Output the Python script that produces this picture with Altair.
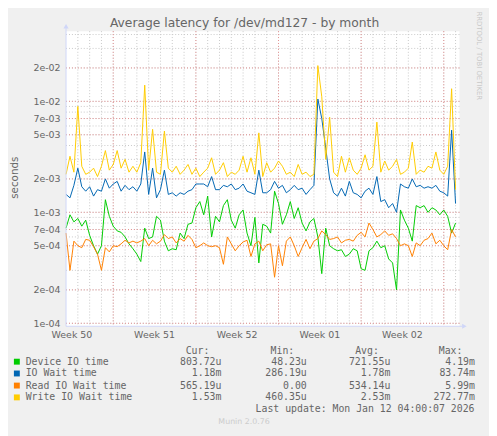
import altair as alt
import pandas as pd

# ---------------- data (values in milliseconds, one sample every 8 hours) ----------------
SERIES = ["Device IO time", "IO Wait time", "Read IO Wait time", "Write IO Wait time"]
COLORS = ["#00CC00", "#0066B3", "#FF8000", "#FFCC00"]

device_ms = [
    0.72, 0.95, 0.82, 0.88, 0.75, 0.85, 0.62, 0.50, 0.42, 0.50,
    1.30, 0.92, 0.75, 0.68, 0.66, 0.60, 0.52, 0.47, 0.42, 0.36,
    0.72, 0.58, 0.60, 0.92, 0.85, 0.55, 0.45, 0.47, 0.46, 0.65,
    0.58, 0.78, 0.80, 1.10, 1.25, 0.95, 1.40, 0.60, 0.92, 0.82,
    1.15, 1.30, 0.85, 0.72, 0.95, 1.05, 0.65, 0.50, 0.90, 0.35,
    0.78, 0.75, 0.65, 1.55, 1.20, 0.78, 0.95, 1.25, 0.88, 1.10,
    0.80, 0.68, 0.82, 0.88, 0.60, 0.28, 0.72, 0.50, 0.47, 0.45,
    0.46, 0.40, 0.42, 0.47, 0.45, 0.31, 0.30, 0.45, 0.48, 0.55,
    0.48, 0.50, 0.38, 0.35, 0.20, 1.05, 0.85, 0.72, 0.55, 1.15,
    1.10, 1.15, 1.00, 1.10, 1.05, 0.95, 1.05, 0.92, 0.65, 0.80,
]
iowait_ms = [
    1.45, 1.35, 1.75, 2.50, 1.70, 1.55, 1.70, 1.40, 1.60, 1.55,
    2.00, 1.65, 1.80, 1.90, 1.55, 1.75, 1.60, 1.70, 1.55, 1.80,
    3.50, 1.45, 2.50, 1.35, 1.60, 2.40, 1.45, 1.50, 1.40, 1.50,
    1.45, 1.55, 1.60, 1.80, 1.80, 1.80, 1.70, 2.10, 1.60, 1.60,
    1.75, 1.70, 1.80, 1.60, 1.65, 1.80, 1.55, 1.50, 1.45, 2.40,
    1.50, 1.50, 1.60, 1.90, 1.65, 1.75, 1.50, 1.60, 1.75, 1.60,
    1.65, 1.45, 1.60, 1.75, 10.5, 7.00, 3.80, 2.00, 1.50, 1.40,
    1.65, 1.40, 1.90, 1.50, 1.45, 1.35, 1.55, 1.65, 1.45, 2.10,
    1.25, 1.30, 1.10, 1.20, 1.00, 1.80, 1.70, 1.65, 2.00, 1.70,
    1.75, 1.65, 1.70, 1.65, 1.75, 1.55, 1.50, 1.40, 5.50, 1.20,
]
read_ms = [
    0.65, 0.30, 0.55, 0.50, 0.48, 0.57, 0.56, 0.49, 0.42, 0.30,
    0.48, 0.44, 0.50, 0.49, 0.52, 0.56, 0.53, 0.55, 0.53, 0.55,
    0.58, 0.50, 0.56, 0.52, 0.55, 0.63, 0.58, 0.60, 0.53, 0.58,
    0.55, 0.62, 0.57, 0.48, 0.50, 0.53, 0.50, 0.49, 0.50, 0.48,
    0.34, 0.60, 0.52, 0.45, 0.50, 0.54, 0.56, 0.40, 0.52, 0.55,
    0.45, 0.51, 0.52, 0.26, 0.50, 0.33, 0.55, 0.60, 0.50, 0.40,
    0.48, 0.57, 0.47, 0.55, 0.58, 0.68, 0.63, 0.57, 0.58, 0.60,
    0.53, 0.56, 0.57, 0.55, 0.62, 0.66, 0.60, 0.80, 0.70, 0.60,
    0.63, 0.68, 0.62, 0.64, 0.58, 0.50, 0.52, 0.50, 0.40, 0.53,
    0.50, 0.56, 0.58, 0.65, 0.52, 0.56, 0.50, 0.46, 0.70, 0.60,
]
write_ms = [
    2.20, 3.20, 2.30, 9.00, 2.60, 2.20, 2.30, 2.50, 2.10, 2.60,
    3.60, 2.40, 2.70, 3.60, 2.50, 3.00, 2.30, 2.60, 2.30, 2.80,
    14.0, 2.40, 5.60, 2.30, 2.20, 5.40, 2.50, 2.30, 2.60, 2.20,
    2.40, 2.70, 2.20, 2.50, 2.10, 2.30, 2.50, 3.10, 2.20, 2.40,
    2.80, 2.10, 2.30, 2.20, 2.40, 3.20, 2.30, 3.10, 2.20, 5.20,
    2.10, 2.80, 2.30, 2.50, 2.90, 2.60, 2.20, 2.30, 2.10, 2.70,
    2.20, 2.30, 2.10, 2.20, 21.0, 11.0, 3.00, 7.20, 2.30, 2.10,
    3.20, 2.30, 3.10, 2.40, 2.20, 2.50, 3.30, 2.40, 2.60, 6.50,
    2.30, 2.90, 2.40, 2.60, 3.00, 2.20, 2.30, 2.50, 4.30, 2.20,
    2.40, 2.30, 2.60, 2.50, 3.50, 2.40, 2.20, 2.60, 13.0, 1.60,
]
SERIES_MS = [device_ms, iowait_ms, read_ms, write_ms]
for s in SERIES_MS:
    assert len(s) == 100

HOURS_PER_SAMPLE = 8
SPAN_DAYS = 100 / 3
WEEK_LABELS = ["Week 50", "Week 51", "Week 52", "Week 01", "Week 02"]
WEEK_START_DAYS = [4, 11, 18, 25, 32]
Y_LABEL_VALUES = [1e-4, 2e-4, 5e-4, 7e-4, 1e-3, 2e-3, 5e-3, 7e-3, 1e-2, 2e-2]
Y_DOMAIN = [9.4e-5, 0.0429]

CUR = ["803.72u", "1.18m", "565.19u", "1.53m"]
MIN = ["48.23u", "286.19u", "0.00\u00a0", "460.35u"]
AVG = ["721.55u", "1.78m", "534.14u", "2.53m"]
MAX = ["4.19m", "83.74m", "5.99m", "272.77m"]

TITLE = "Average latency for /dev/md127 - by month"
Y_TITLE = "seconds"
LAST_UPDATE = "Last update: Mon Jan 12 04:00:07 2026"
FOOTER = "Munin 2.0.76"
WATERMARK = "RRDTOOL / TOBI OETIKER"

# ---------------- build tables ----------------
rows = []
for name, vals in zip(SERIES, SERIES_MS):
    for i, v in enumerate(vals):
        rows.append({"series": name, "day": i * HOURS_PER_SAMPLE / 24, "sec": v / 1000})
df = pd.DataFrame(rows)

minor_y = [m * 10 ** e for e in (-4, -3, -2) for m in range(1, 10) if m * 10 ** e <= Y_DOMAIN[1]]
grid_minor_y = pd.DataFrame({"v": minor_y})
grid_major_y = pd.DataFrame({"v": Y_LABEL_VALUES})
grid_minor_x = pd.DataFrame({"d": list(range(1, 34))})
grid_major_x = pd.DataFrame({"d": WEEK_START_DAYS})
weeks = pd.DataFrame({"c": [d - 3.5 for d in WEEK_START_DAYS], "label": WEEK_LABELS})
one = pd.DataFrame({"k": [0]})

W, H = 400, 300
FONT = "DejaVu Sans"
MONO = "DejaVu Sans Mono"
TXT = "#666666"
AXISC = "#CFD6F8"

x_scale = alt.Scale(domain=[0, SPAN_DAYS], nice=False, zero=False)
y_scale = alt.Scale(type="log", domain=Y_DOMAIN, nice=False)
y_axis = alt.Axis(values=Y_LABEL_VALUES,
                  labelExpr="replace(format(datum.value, '.0e'), 'e-', 'e-0')",
                  grid=False, ticks=False, tickSize=0, domain=False, labelPadding=6,
                  labelFont=FONT, labelFontSize=9.6, labelColor=TXT, title=None,
                  labelOverlap=False)


def hgrid(data, color):
    return alt.Chart(data).mark_rule(color=color, strokeDash=[1, 2], strokeWidth=1).encode(
        y=alt.Y("v:Q", scale=y_scale, axis=y_axis))


def vgrid(data, color):
    return alt.Chart(data).mark_rule(color=color, strokeDash=[1, 2], strokeWidth=1).encode(
        x=alt.X("d:Q", scale=x_scale, axis=None))


layers = [
    hgrid(grid_minor_y, "#c8c8c8"),
    vgrid(grid_minor_x, "#c8c8c8"),
    hgrid(grid_major_y, "#e49292"),
    vgrid(grid_major_x, "#e49292"),
]

for name, color in zip(SERIES, COLORS):
    layers.append(
        alt.Chart(df).transform_filter(alt.datum.series == name).mark_line(
            color=color, strokeWidth=1, interpolate="linear").encode(
            x=alt.X("day:Q", scale=x_scale, axis=None),
            y=alt.Y("sec:Q", scale=y_scale, axis=y_axis)))

# axis lines and arrows
layers.append(alt.Chart(one).mark_rule(color=AXISC, strokeWidth=1).encode(
    x=alt.value(0), y=alt.value(-3), y2=alt.value(H)))
layers.append(alt.Chart(one).mark_rule(color=AXISC, strokeWidth=1).encode(
    x=alt.value(0), x2=alt.value(W + 3), y=alt.value(H)))
layers.append(alt.Chart(one).mark_point(shape="triangle-up", filled=True, size=28,
                                         color=AXISC, opacity=1).encode(
    x=alt.value(0), y=alt.value(-5)))
layers.append(alt.Chart(one).mark_point(shape="triangle-right", filled=True, size=28,
                                         color=AXISC, opacity=1).encode(
    x=alt.value(W + 5), y=alt.value(H)))

# week labels
layers.append(alt.Chart(weeks).mark_text(font=FONT, fontSize=9.6, color=TXT,
                                         baseline="middle", align="center").encode(
    x=alt.X("c:Q", scale=x_scale, axis=None), y=alt.value(H + 9), text="label:N"))


def txt(s, x, y, size=10, font=MONO, align="left", color=TXT, angle=0):
    kw = dict(font=font, fontSize=size, color=color, align=align, baseline="middle")
    if angle:
        kw["angle"] = angle
    return alt.Chart(one).mark_text(**kw).encode(
        x=alt.value(x), y=alt.value(y), text=alt.value(s))


layers.append(txt(TITLE, 181.5, -8.5, size=12.5, font=FONT, align="center"))
layers.append(txt(Y_TITLE, -52, 149, size=10.5, font=FONT, align="center", angle=270))
layers.append(txt(WATERMARK, 420, 25, size=7, font=FONT, align="center", color="#c8c8c8", angle=90))

# legend table
HEAD_Y = 324.7
ROW_Y = [336, 348, 360.3, 372.3]
for label, x in zip(["Cur:", "Min:", "Avg:", "Max:"], [145.7, 232, 318, 403]):
    layers.append(txt(label, x, HEAD_Y, align="right"))
for r, (name, color) in enumerate(zip(SERIES, COLORS)):
    y = ROW_Y[r]
    layers.append(alt.Chart(one).mark_square(size=36, color=color, filled=True, opacity=1).encode(
        x=alt.value(-50), y=alt.value(y)))
    layers.append(txt(name, -41, y))
    for vals, x in zip([CUR, MIN, AVG, MAX], [158, 244.7, 329.7, 415.7]):
        layers.append(txt(vals[r], x, y, align="right"))
layers.append(txt(LAST_UPDATE, 415.3, 384.3, align="right"))
layers.append(txt(FOOTER, 181, 397.7, size=8, font=FONT, align="center", color="#cccccc"))

chart = alt.layer(*layers).properties(
    width=W, height=H,
    autosize=alt.AutoSizeParams(type="none"),
    padding={"left": 59, "top": 20, "right": 30, "bottom": 108},
    background="#F0F0F0",
).configure_view(stroke=None, fill="#FFFFFF")

chart.save("out.html", embed_options={"renderer": "svg", "actions": False})
